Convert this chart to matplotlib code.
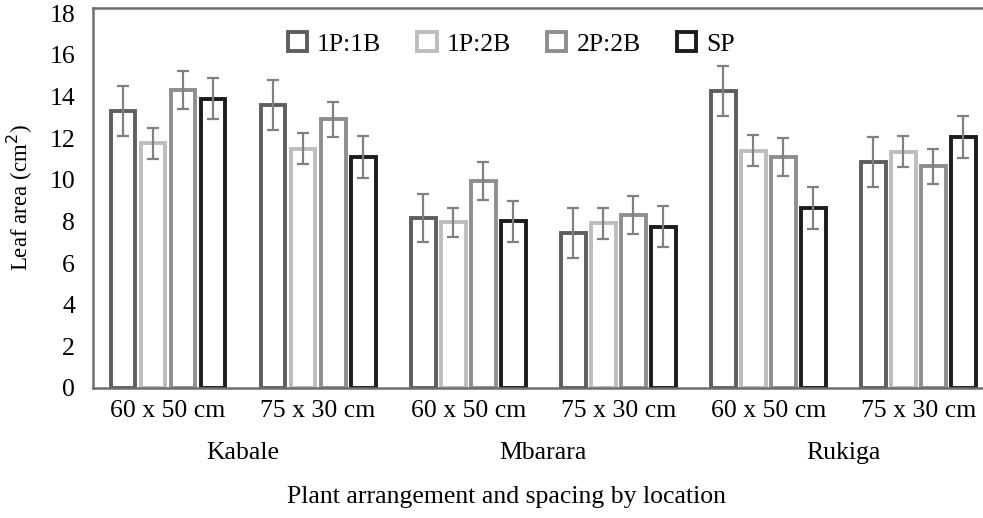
import numpy as np
import matplotlib
matplotlib.use("Agg")
from matplotlib import pyplot as plt

plt.rcParams['font.family'] = ['Liberation Serif', 'DejaVu Serif']

spacings = ["60 x 50 cm", "75 x 30 cm", "60 x 50 cm", "75 x 30 cm", "60 x 50 cm", "75 x 30 cm"]
locations = ["Kabale", "Mbarara", "Rukiga"]
series = ["1P:1B", "1P:2B", "2P:2B", "SP"]

p1b1 = [13.3, 13.6, 8.15, 7.45, 14.25, 10.85]
p1b2 = [11.75, 11.5, 7.95, 7.9, 11.4, 11.35]
p2b2 = [14.3, 12.9, 9.95, 8.3, 11.1, 10.65]
sp = [13.9, 11.1, 8.0, 7.75, 8.65, 12.05]

err_p1b1 = [1.2, 1.2, 1.15, 1.2, 1.2, 1.2]
err_p1b2 = [0.75, 0.75, 0.7, 0.75, 0.75, 0.75]
err_p2b2 = [0.9, 0.85, 0.9, 0.9, 0.9, 0.85]
err_sp = [1.0, 1.0, 1.0, 1.0, 1.0, 1.0]

values = [p1b1, p1b2, p2b2, sp]
errors = [err_p1b1, err_p1b2, err_p2b2, err_sp]
edge_colors = ["#5e5e5e", "#bdbdbd", "#8e8e8e", "#1c1c1c"]

fig = plt.figure(figsize=(9.83, 5.18), dpi=100)
ax = fig.add_axes([0.0946, 0.251, 0.9054, 0.7336])

x = np.arange(len(spacings))
w = 0.2
for i in range(len(series)):
    pos = x + (i - 1.5) * w
    ax.bar(pos, values[i], width=0.165, facecolor="white", edgecolor=edge_colors[i],
           linewidth=2.8, label=series[i], zorder=2)
    ax.errorbar(pos, values[i], yerr=errors[i], fmt="none", ecolor="#808080",
                elinewidth=1.6, capsize=4.2, capthick=1.6, zorder=3)

ax.set_xlim(-0.5, 5.43)
ax.set_ylim(0, 18.25)
ax.set_yticks(range(0, 19, 2))
ax.set_xticks(x)
ax.set_xticklabels(spacings)
ax.tick_params(axis="both", length=0, labelsize=18.5)
ax.tick_params(axis="x", pad=9)
ax.tick_params(axis="y", pad=13)

for s in ["left", "top", "bottom"]:
    ax.spines[s].set_color("#6e6e6e")
    ax.spines[s].set_linewidth(1.8)
ax.spines["right"].set_visible(False)

ax.set_ylabel("Leaf area (cm$^2$)", fontsize=16.5, labelpad=10)

for j, loc in enumerate(locations):
    ax.text(2 * j + 0.5, -0.17, loc, transform=ax.get_xaxis_transform(),
            ha="center", va="center", fontsize=18.5)

fig.text(507 / 983, 1 - 497 / 518, "Plant arrangement and spacing by location",
         ha="center", va="center", fontsize=18.5)

ax.legend(loc="center", bbox_to_anchor=(0.47, 0.905), ncol=4, frameon=False,
          fontsize=18.5, handlelength=0.75, handleheight=0.75, handletextpad=0.4,
          columnspacing=1.4)

fig.savefig("out.png", dpi=100)
